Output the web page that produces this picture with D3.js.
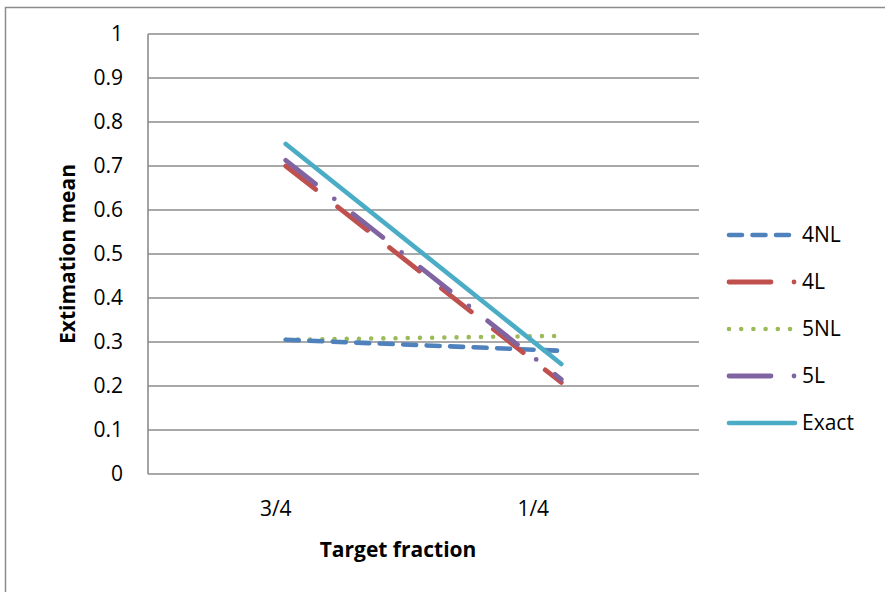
<!DOCTYPE html>
<html><head><meta charset="utf-8">
<script src="https://cdn.jsdelivr.net/npm/d3@7"></script>
<style>body{margin:0;background:#fff;} svg{display:block;}</style>
</head><body>
<svg id="c" width="885" height="592"></svg>
<script>
const categories = ["3/4", "1/4"];
const yTicks = [0, 0.1, 0.2, 0.3, 0.4, 0.5, 0.6, 0.7, 0.8, 0.9, 1];
const seriesNames = ["4NL", "4L", "5NL", "5L", "Exact"];
const s4NL = [0.305, 0.280];
const s4L = [0.700, 0.208];
const s5NL = [0.305, 0.314];
const s5L = [0.713, 0.215];
const sExact = [0.75, 0.25];
const seriesValues = [s4NL, s4L, s5NL, s5L, sExact];

const styles = {
  "4NL":  {color:"#4F81BD", dash:"13 10.5", legendDash:"13 10.5", w:4.6},
  "4L":   {color:"#C0504D", dash:"38 28", legendDash:"42 23 0 30", w:4.8},
  "5NL":  {color:"#9BBB59", dash:"0 12.2", legendDash:"0 12.2", w:4.6},
  "5L":   {color:"#8064A2", dash:"38 24 0 24", legendDash:"42 23 0 30", w:4.8},
  "Exact":{color:"#4BACC6", dash:null, legendDash:null, w:4.6}
};

const svg = d3.select("#c");
const font = "'Open Sans', sans-serif";
const fs = 21;
const m = {l:148, t:34, r:699, b:474};

// outer frame
svg.append("rect").attr("x",5.5).attr("y",7.5).attr("width",900).attr("height",600)
  .attr("fill","none").attr("stroke","#8c8c8c").attr("stroke-width",1.5);

const x = d3.scaleBand().domain(categories).range([m.l, m.r]);
const y = d3.scaleLinear().domain([0,1]).range([m.b, m.t]);

// gridlines
svg.append("g").selectAll("line").data(yTicks).join("line")
  .attr("x1", m.l).attr("x2", m.r)
  .attr("y1", d=>y(d)).attr("y2", d=>y(d))
  .attr("stroke","#8c8c8c").attr("stroke-width",1.6);
// left axis line
svg.append("line").attr("x1",m.l).attr("x2",m.l).attr("y1",m.t).attr("y2",m.b)
  .attr("stroke","#8c8c8c").attr("stroke-width",1.6);

// y tick labels
svg.append("g").selectAll("text").data(yTicks).join("text")
  .attr("x", 123).attr("y", d=>y(d)).attr("dy","0.35em")
  .attr("text-anchor","end").attr("font-family",font).attr("font-size",fs)
  .attr("fill","#000").text(d=>d3.format("~g")(d));

// x tick labels
const xLabelShift = [-10, -28];
svg.append("g").selectAll("text").data(categories).join("text")
  .attr("x", (d,i)=>x(d)+x.bandwidth()/2 + xLabelShift[i]).attr("y", 509).attr("dy","0.35em")
  .attr("text-anchor","middle").attr("font-family",font).attr("font-size",fs)
  .attr("fill","#000").text(d=>d);

// axis titles
svg.append("text").attr("x",398).attr("y",550).attr("dy","0.35em")
  .attr("text-anchor","middle").attr("font-family",font).attr("font-size",fs)
  .attr("font-weight","bold").text("Target fraction");
svg.append("text").attr("transform","translate(68,254) rotate(-90)").attr("dy","0.35em")
  .attr("text-anchor","middle").attr("font-family",font).attr("font-size",fs)
  .attr("font-weight","bold").text("Extimation mean");

// lines
const line = d3.line().x((d,i)=>x(categories[i])+x.bandwidth()/2).y(d=>y(d));
const order = [2, 0, 1, 3, 4];
order.forEach(k=>{
  const st = styles[seriesNames[k]];
  svg.append("path").datum(seriesValues[k]).attr("d", line)
    .attr("fill","none").attr("stroke",st.color).attr("stroke-width",st.w)
    .attr("stroke-linecap","round").attr("stroke-dasharray",st.dash);
});

// legend
const lg = svg.append("g");
seriesNames.forEach((n,i)=>{
  const st = styles[n];
  const ly = 235 + i*47;
  lg.append("line").attr("x1",729).attr("x2",795).attr("y1",ly).attr("y2",ly)
    .attr("stroke",st.color).attr("stroke-width",st.w).attr("stroke-linecap","round")
    .attr("stroke-dasharray",st.legendDash);
  lg.append("text").attr("x",802).attr("y",ly).attr("dy","0.35em")
    .attr("font-family",font).attr("font-size",fs).attr("fill","#000").text(n);
});
</script>
</body></html>
